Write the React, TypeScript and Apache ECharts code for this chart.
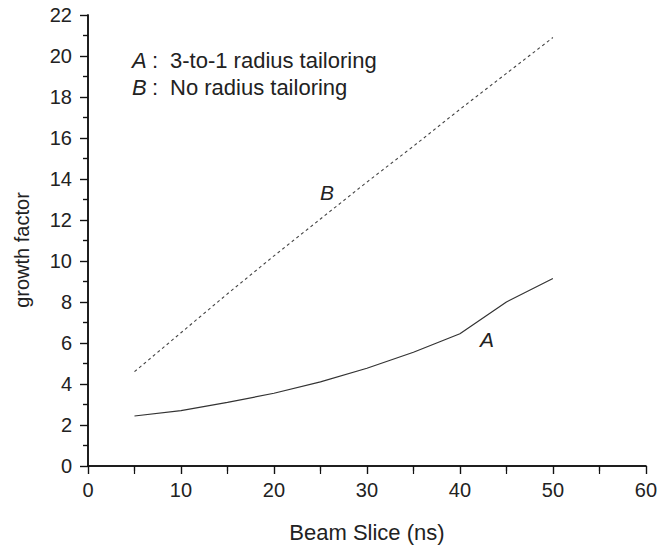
import React, { useEffect, useRef } from "react";
import * as echarts from "echarts";

const beamSlice = [5, 10, 15, 20, 25, 30, 35, 40, 45, 50];
const growthA = [2.44, 2.7, 3.1, 3.55, 4.1, 4.77, 5.55, 6.45, 8.0, 9.15];
const growthB = [4.6, 6.5, 8.4, 10.25, 12.05, 13.85, 15.6, 17.4, 19.15, 20.9];

const FONT = "'Liberation Sans', Arial, sans-serif";

export default function App() {
  const ref = useRef<HTMLDivElement>(null);
  useEffect(() => {
    if (!ref.current) return;
    const chart = echarts.init(ref.current, undefined, { renderer: "svg" });
    const axisLine = { show: true, lineStyle: { color: "#111", width: 1.5 } };
    const tickStyle = { color: "#111", width: 1.2 };
    const txt = (text: string, x: number, y: number, size: number, italic = false) => ({
      type: "text", x, y,
      style: { text, font: `${italic ? "italic " : ""}${size}px ${FONT}`, fill: "#222", textVerticalAlign: "top" },
    });
    chart.setOption({
      animation: false,
      backgroundColor: "#fff",
      grid: { left: 88, right: 12, top: 15, bottom: 82, containLabel: false },
      xAxis: [
        {
          type: "value", min: 0, max: 60, interval: 10, position: "bottom",
          name: "Beam Slice (ns)", nameLocation: "middle", nameGap: 55,
          nameTextStyle: { fontFamily: FONT, fontSize: 22, color: "#222" },
          axisLine,
          axisTick: { show: true, length: 8, lineStyle: tickStyle },
          minorTick: { show: true, splitNumber: 2, length: 8, lineStyle: tickStyle },
          axisLabel: { fontFamily: FONT, fontSize: 20, color: "#222", margin: 14 },
          splitLine: { show: false },
        },
        {
          type: "value", min: 0, max: 60, interval: 10, position: "top",
          axisLine,
          axisTick: { show: true, inside: true, length: 8, lineStyle: tickStyle },
          minorTick: { show: true, splitNumber: 2, length: 5, lineStyle: tickStyle },
          axisLabel: { show: false },
          splitLine: { show: false },
        },
      ],
      yAxis: [
        {
          type: "value", min: 0, max: 22, interval: 2, position: "left",
          axisLine,
          axisTick: { show: true, length: 8, lineStyle: tickStyle },
          minorTick: { show: true, splitNumber: 2, length: 5, lineStyle: tickStyle },
          axisLabel: { fontFamily: FONT, fontSize: 20, color: "#222", margin: 16 },
          splitLine: { show: false },
        },
        {
          type: "value", min: 0, max: 22, interval: 2, position: "right",
          axisLine,
          axisTick: { show: true, inside: true, length: 8, lineStyle: tickStyle },
          minorTick: { show: true, splitNumber: 2, length: 5, lineStyle: tickStyle },
          axisLabel: { show: false },
          splitLine: { show: false },
        },
      ],
      series: [
        {
          name: "A", type: "line", xAxisIndex: 0, yAxisIndex: 0,
          data: beamSlice.map((x, i) => [x, growthA[i]]),
          showSymbol: false, symbol: "none",
          lineStyle: { color: "#333", width: 1.2, type: "solid" },
        },
        {
          name: "B", type: "line", xAxisIndex: 0, yAxisIndex: 0,
          data: beamSlice.map((x, i) => [x, growthB[i]]),
          showSymbol: false, symbol: "none",
          lineStyle: { color: "#444", width: 1.1, type: [3, 3] },
        },
      ],
      graphic: [
        {
          type: "text", x: 22, y: 250, rotation: Math.PI / 2,
          style: { text: "growth factor", font: `20px ${FONT}`, fill: "#222", textAlign: "center", textVerticalAlign: "middle" },
        },
        txt("A", 132, 49, 22, true),
        txt(":", 152, 49, 22),
        txt("3-to-1 radius tailoring", 170, 49, 22),
        txt("B", 132, 76, 22, true),
        txt(":", 152, 76, 22),
        txt("No radius tailoring", 170, 76, 22),
        txt("B", 320, 182, 21, true),
        txt("A", 480, 329, 21, true),
      ],
    });
    return () => chart.dispose();
  }, []);
  return <div ref={ref} style={{ position: "fixed", left: 0, top: 0, width: 660, height: 548 }} />;
}
